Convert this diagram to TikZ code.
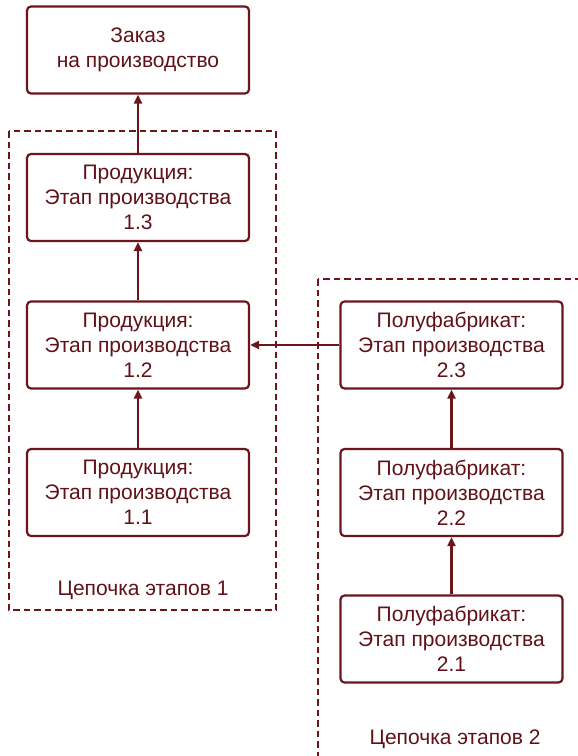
\documentclass[tikz,border=0pt]{standalone}
\usepackage{fontspec}
\setmainfont{Liberation Sans}
\usetikzlibrary{arrows.meta}
\definecolor{wine}{RGB}{108,22,28}
\definecolor{winetext}{RGB}{96,18,24}
\tikzset{
  stagebox/.style={draw=wine, line width=2.2bp, rounded corners=4bp, fill=white,
    minimum width=222bp, minimum height=87bp, inner sep=0pt,
    align=center, text=winetext,
    font=\fontsize{21bp}{25bp}\selectfont},
  chainframe/.style={draw=wine, line width=1.4bp, dash pattern=on 6.5bp off 4bp},
  chainlabel/.style={text=winetext, font=\fontsize{21bp}{25bp}\selectfont, inner sep=0pt},
  flow/.style={draw=wine, line width=2.2bp, -{Triangle[length=9bp,width=8bp]}}
}
\begin{document}
\begin{tikzpicture}[x=1bp,y=-1bp]
  \useasboundingbox (0,0) rectangle (578,756);
  \clip (0,0) rectangle (578,756);
  \fill[white] (0,0) rectangle (578,756);

  % dashed frames of the two chains
  \draw[chainframe] (9,131) rectangle (276,610);
  \draw[chainframe] (318,279) rectangle (600,780);

  % order
  \node[stagebox] (order) at (138,50) {Заказ\\на производство};

  % chain 1
  \node[stagebox] (p13) at (138,197.5) {Продукция:\\Этап производства\\1.3};
  \node[stagebox] (p12) at (138,345) {Продукция:\\Этап производства\\1.2};
  \node[stagebox] (p11) at (138,492.5) {Продукция:\\Этап производства\\1.1};

  % chain 2
  \node[stagebox] (s23) at (451.5,345) {Полуфабрикат:\\Этап производства\\2.3};
  \node[stagebox] (s22) at (451.5,492.5) {Полуфабрикат:\\Этап производства\\2.2};
  \node[stagebox] (s21) at (451.5,639) {Полуфабрикат:\\Этап производства\\2.1};

  \node[chainlabel] (lab1) at (143,590) {Цепочка этапов 1};
  \node[chainlabel] (lab2) at (455,739) {Цепочка этапов 2};

  % flows
  \draw[flow] (p11) -- (p12);
  \draw[flow] (p12) -- (p13);
  \draw[flow] (p13) -- (order);
  \draw[flow] (s21) -- (s22);
  \draw[flow] (s22) -- (s23);
  \draw[flow] (s23) -- (p12);
\end{tikzpicture}
\end{document}
